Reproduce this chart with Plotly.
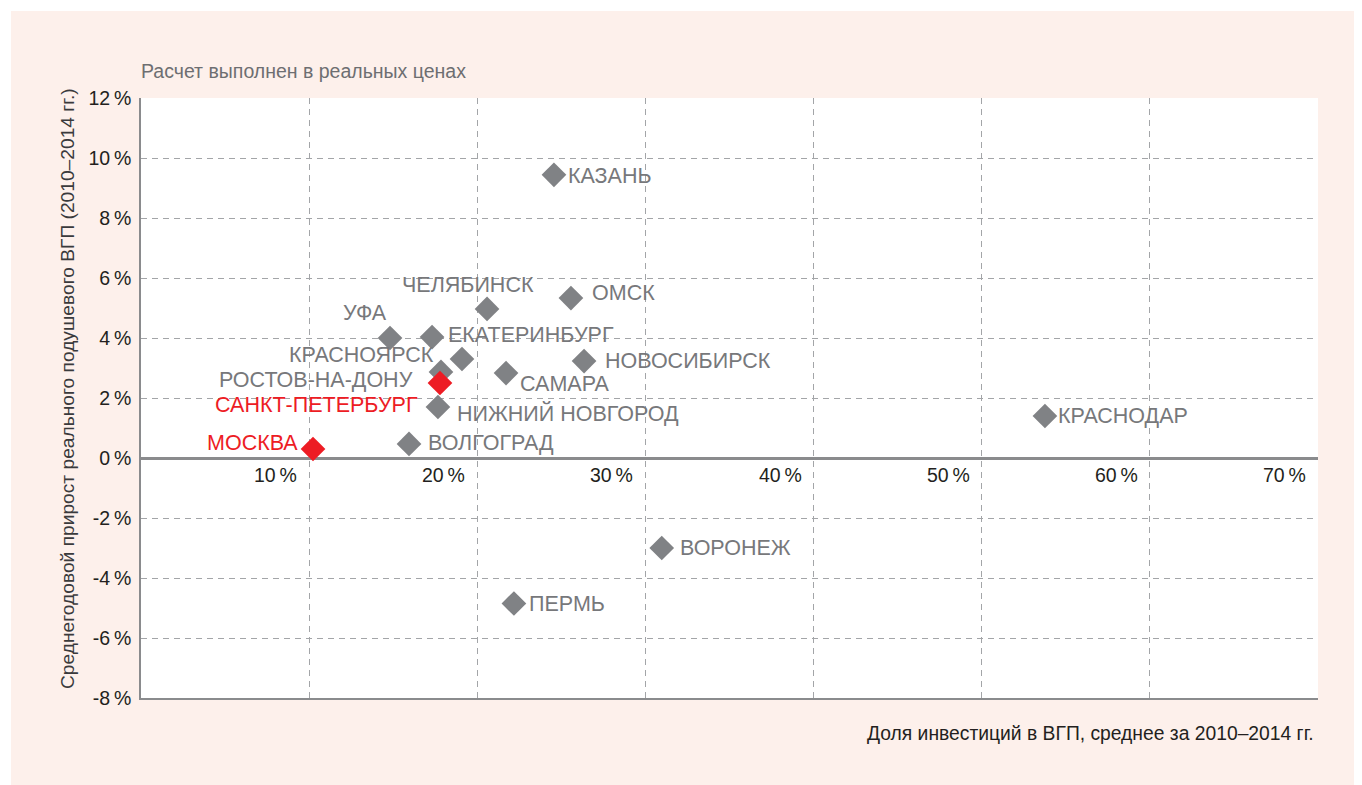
import plotly.graph_objects as go

# ---- data ----
cities = ["КАЗАНЬ", "ОМСК", "ЧЕЛЯБИНСК", "УФА", "ЕКАТЕРИНБУРГ", "КРАСНОЯРСК",
          "РОСТОВ-НА-ДОНУ", "САНКТ-ПЕТЕРБУРГ", "НИЖНИЙ НОВГОРОД", "САМАРА",
          "НОВОСИБИРСК", "КРАСНОДАР", "МОСКВА", "ВОЛГОГРАД", "ВОРОНЕЖ", "ПЕРМЬ"]
invest_share = [24.56, 25.57, 20.58, 14.81, 17.31, 19.09, 17.84, 17.78, 17.66, 21.71,
                26.35, 53.76, 10.23, 15.94, 30.97, 22.18]
gdp_growth = [9.44, 5.33, 4.97, 4.00, 4.03, 3.30, 2.87, 2.50, 1.70, 2.83,
              3.23, 1.40, 0.30, 0.47, -3.00, -4.85]
highlight = ["САНКТ-ПЕТЕРБУРГ", "МОСКВА"]

x_ticks = [10, 20, 30, 40, 50, 60, 70]
x_tick_labels = ["10\u2009%", "20\u2009%", "30\u2009%", "40\u2009%", "50\u2009%", "60\u2009%", "70\u2009%"]
y_ticks = [-8, -6, -4, -2, 0, 2, 4, 6, 8, 10, 12]
y_tick_labels = ["-8\u2009%", "-6\u2009%", "-4\u2009%", "-2\u2009%", "0\u2009%", "2\u2009%",
                 "4\u2009%", "6\u2009%", "8\u2009%", "10\u2009%", "12\u2009%"]

note_text = "Расчет выполнен в реальных ценах"
x_title = "Доля инвестиций в ВГП, среднее за 2010–2014 гг."
y_title = "Среднегодовой прирост реального подушевого ВГП (2010–2014 гг.)"

# ---- label placement (layout only): anchor, xshift, yshift in px ----
label_pos = {
    "КАЗАНЬ": ("left", 13, -1),
    "ОМСК": ("left", 20, 5),
    "ЧЕЛЯБИНСК": ("center", -19, 24),
    "УФА": ("center", -25, 25),
    "ЕКАТЕРИНБУРГ": ("left", 15, 2),
    "КРАСНОЯРСК": ("right", -27, 4),
    "РОСТОВ-НА-ДОНУ": ("right", -27, -8),
    "САНКТ-ПЕТЕРБУРГ": ("right", -21, -22),
    "НИЖНИЙ НОВГОРОД": ("left", 18, -6),
    "САМАРА": ("left", 13, -11),
    "НОВОСИБИРСК": ("left", 20, 0),
    "КРАСНОДАР": ("left", 12, 0),
    "МОСКВА": ("right", -14, 6),
    "ВОЛГОГРАД": ("left", 18, 1),
    "ВОРОНЕЖ": ("left", 17, 0),
    "ПЕРМЬ": ("left", 14, 0),
}

FONT = "Liberation Sans, Arial, sans-serif"
GRAY_MARK = "#808285"
RED = "#ed1c24"
LABEL_GRAY = "#77787b"
DARK = "#231f20"
PINK = "#fdf0eb"
GRID = "#a3a5a8"
AXIS = "#8a8b8d"

# page has an 8px body margin; figure is sized/offset to compensate
OFF = 8
W, H = 1362 - OFF, 785 - OFF
ML, MR, MT, MB = 141 - OFF, 44, 98 - OFF, 87
PW, PH = W - ML - MR, H - MT - MB


def px_to_paper_x(px):  # px in page coordinates
    return (px - OFF - ML) / PW


def px_to_paper_y(py):
    return (H - MB - (py - OFF)) / PH


gx = [x for x, c in zip(invest_share, cities) if c not in highlight]
gy = [y for y, c in zip(gdp_growth, cities) if c not in highlight]
rx = [x for x, c in zip(invest_share, cities) if c in highlight]
ry = [y for y, c in zip(gdp_growth, cities) if c in highlight]

fig = go.Figure()
fig.add_trace(go.Scatter(x=gx, y=gy, mode="markers",
                         marker=dict(symbol="diamond", size=19, color=GRAY_MARK,
                                     line=dict(width=0)),
                         showlegend=False, hoverinfo="skip"))
fig.add_trace(go.Scatter(x=rx, y=ry, mode="markers",
                         marker=dict(symbol="diamond", size=19, color=RED,
                                     line=dict(width=0)),
                         showlegend=False, hoverinfo="skip"))

annotations = []
for c, x, y in zip(cities, invest_share, gdp_growth):
    anc, dx, dy = label_pos[c]
    annotations.append(dict(x=x, y=y, xref="x", yref="y", text=c, showarrow=False,
                            xanchor=anc, yanchor="middle", xshift=dx, yshift=dy,
                            borderpad=0,
                            font=dict(family=FONT, size=21.5,
                                      color=RED if c in highlight else LABEL_GRAY)))

for v, t in zip(x_ticks, x_tick_labels):
    annotations.append(dict(x=v, y=0, xref="x", yref="y", text=t, showarrow=False,
                            xanchor="right", yanchor="middle", xshift=-10, yshift=-17,
                            font=dict(family=FONT, size=19.5, color=DARK)))

annotations.append(dict(x=px_to_paper_x(141), y=px_to_paper_y(71), xref="paper", yref="paper",
                        text=note_text, showarrow=False, xanchor="left", yanchor="middle",
                        xshift=-2, font=dict(family=FONT, size=19.5, color="#6d6e71")))
annotations.append(dict(x=px_to_paper_x(1316), y=px_to_paper_y(733), xref="paper",
                        yref="paper", text=x_title, showarrow=False, xanchor="right",
                        yanchor="middle", font=dict(family=FONT, size=19.3, color=DARK)))
annotations.append(dict(x=px_to_paper_x(67), y=px_to_paper_y(389), xref="paper",
                        yref="paper", text=y_title, showarrow=False, textangle=-90,
                        xanchor="center", yanchor="middle",
                        font=dict(family=FONT, size=19.2, color="#3a3a3c")))

shapes = [
    dict(type="rect", xref="paper", yref="paper", layer="below",
         x0=px_to_paper_x(11), x1=px_to_paper_x(1362 + 10),
         y0=px_to_paper_y(11), y1=px_to_paper_y(785 + 10),
         fillcolor=PINK, line=dict(width=0)),
    dict(type="rect", xref="paper", yref="paper", layer="below",
         x0=0, x1=1, y0=0, y1=1, fillcolor="white", line=dict(width=0)),
]

fig.update_layout(
    width=W, height=H,
    margin=dict(l=ML, r=MR, t=MT, b=MB),
    paper_bgcolor="white", plot_bgcolor="white",
    font=dict(family=FONT, color=DARK),
    xaxis=dict(range=[0, 70], tickvals=x_ticks, showticklabels=False, ticks="",
               showgrid=True, gridcolor=GRID, gridwidth=1, griddash="6px,5px",
               zeroline=False, showline=True, linecolor=AXIS, linewidth=1.5,
               fixedrange=True),
    yaxis=dict(range=[-8, 12], tickvals=y_ticks, ticktext=y_tick_labels, ticks="",
               tickfont=dict(family=FONT, size=19.5, color=DARK), ticklabelstandoff=4,
               showgrid=True, gridcolor=GRID, gridwidth=1, griddash="6px,5px",
               zeroline=True, zerolinecolor=AXIS, zerolinewidth=3,
               showline=True, linecolor=AXIS, linewidth=1.5, fixedrange=True),
    annotations=annotations,
    shapes=shapes,
    showlegend=False,
)

fig.write_html("out.html")
